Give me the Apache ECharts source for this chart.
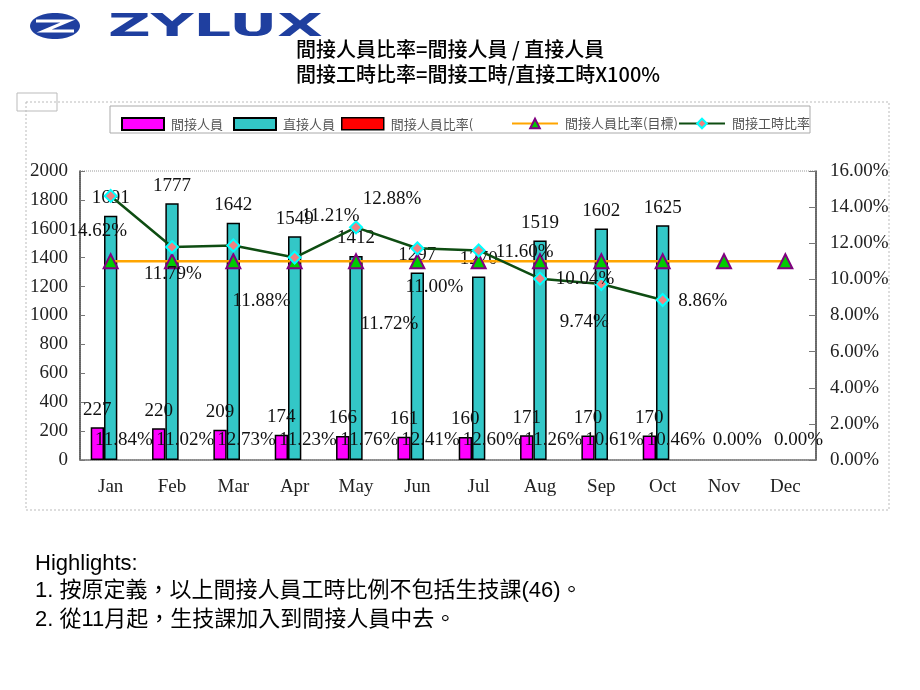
<!DOCTYPE html>
<html>
<head>
<meta charset="utf-8">
<script src="https://cdn.jsdelivr.net/npm/echarts@6/dist/echarts.min.js"></script>
<style>
html,body{margin:0;padding:0;background:#fff;}
#chart{width:920px;height:690px;}
</style>
</head>
<body>
<div id="chart"></div>
<script>
// ---- data ----
const months = ['Jan','Feb','Mar','Apr','May','Jun','Jul','Aug','Sep','Oct','Nov','Dec'];
const indirectStaff = [227,220,209,174,166,161,160,171,170,170,null,null];
const directStaff = [1691,1777,1642,1549,1412,1297,1270,1519,1602,1625,null,null];
const indirectRatio = [11.84,11.02,12.73,11.23,11.76,12.41,12.60,11.26,10.61,10.46,0.00,0.00];
const targetRatio = [11,11,11,11,11,11,11,11,11,11,11,11];
const hoursRatio = [14.62,11.79,11.88,11.21,12.88,11.72,11.60,10.04,9.74,8.86,null,null];
const leftAxisTicks = [0,200,400,600,800,1000,1200,1400,1600,1800,2000];
const rightAxisTicks = [0,2,4,6,8,10,12,14,16];
const titleLines = ['間接人員比率=間接人員 / 直接人員','間接工時比率=間接工時/直接工時X100%'];
const highlights = ['Highlights:','1. 按原定義，以上間接人員工時比例不包括生技課(46)。','2. 從11月起，生技課加入到間接人員中去。'];
const seriesNames = ['間接人員','直接人員','間接人員比率(','間接人員比率(目標)','間接工時比率'];

// ---- styles / label placement ----
const SERIF = '"Liberation Serif","Times New Roman",serif';
const CJK = '"Noto Sans CJK TC","Noto Sans CJK SC",sans-serif';
const hoursLabelOffsets = [[-13,35],[1,27],[28,56],[36,-42],[36,-28],[-28,76],[46,2],[45,0],[-17,38],[40,1]];
const labelFont = {fontFamily: SERIF, fontSize: 19, color: '#111'};

const chart = echarts.init(document.getElementById('chart'), null, {renderer: 'canvas'});

const hoursData = hoursRatio.map((v, i) => {
  if (v == null) return null;
  const off = hoursLabelOffsets[i] || [0, 0];
  return {value: v, label: {show: true, position: 'inside', offset: off, formatter: v.toFixed(2) + '%'}};
});
const targetData = targetRatio.map((v, i) => {
  if (i === 5) return {value: v, label: {show: true, position: 'inside', offset: [17, 26], formatter: v.toFixed(2) + '%'}};
  return v;
});

function legendAt(left, name, w) {
  return {
    left: left, top: 112, itemWidth: w, itemHeight: 12, itemGap: 0,
    data: [name], selectedMode: false,
    textStyle: {fontFamily: CJK, fontSize: 13, color: '#555', padding: [0, 0, 0, 2]}
  };
}
const legends = [
  Object.assign(legendAt(116, seriesNames[0], 42), {icon: 'rect'}),
  Object.assign(legendAt(228, seriesNames[1], 42), {icon: 'rect'}),
  Object.assign(legendAt(336, {name: seriesNames[2], itemStyle: {borderColor: '#000', borderWidth: 1.5}}, 42), {icon: 'rect'}),
  legendAt(506, seriesNames[3], 46),
  legendAt(673, seriesNames[4], 46)
];

const option = {
  backgroundColor: '#fff',
  animation: false,
  legend: legends,
  grid: {left: 80, right: 104, top: 171, bottom: 230, show: true, borderColor: '#999', borderWidth: 1, borderType: 'dotted'},
  xAxis: {
    type: 'category', data: months,
    axisLine: {lineStyle: {color: '#777', width: 1.5}},
    axisTick: {inside: true, length: 5, lineStyle: {color: '#777'}},
    axisLabel: {fontFamily: SERIF, fontSize: 19, color: '#222', margin: 18}
  },
  yAxis: [{
    type: 'value', min: leftAxisTicks[0], max: leftAxisTicks[leftAxisTicks.length - 1], interval: leftAxisTicks[1] - leftAxisTicks[0],
    axisLine: {show: true, lineStyle: {color: '#444', width: 1.5}},
    axisTick: {show: true, inside: true, length: 5, lineStyle: {color: '#777'}},
    splitLine: {show: false},
    axisLabel: {fontFamily: SERIF, fontSize: 19, color: '#222', margin: 12, formatter: v => String(v)}
  }, {
    type: 'value', min: rightAxisTicks[0], max: rightAxisTicks[rightAxisTicks.length - 1], interval: rightAxisTicks[1] - rightAxisTicks[0],
    axisLine: {show: true, lineStyle: {color: '#444', width: 1.5}},
    axisTick: {show: true, inside: true, length: 7, lineStyle: {color: '#777'}},
    splitLine: {show: false},
    axisLabel: {fontFamily: SERIF, fontSize: 19, color: '#222', margin: 14, formatter: v => v.toFixed(2) + '%'}
  }],
  series: [{
    name: seriesNames[0], type: 'bar', data: indirectStaff, barWidth: 13.3, barGap: '0%',
    itemStyle: {color: '#FF00FF', borderColor: '#000', borderWidth: 1.5},
    label: Object.assign({show: true, position: 'top', distance: 8}, labelFont), z: 2
  }, {
    name: seriesNames[1], type: 'bar', data: directStaff, barWidth: 13.3, barGap: '0%',
    itemStyle: {color: '#33C7C7', borderColor: '#000', borderWidth: 1.5},
    label: Object.assign({show: true, position: 'top', distance: 8}, labelFont), z: 2
  }, {
    name: seriesNames[2], type: 'bar', data: indirectRatio.map(v => v / 100), barWidth: 13.3, barGap: '0%',
    itemStyle: {color: '#FF0000', borderWidth: 0},
    label: Object.assign({show: true, position: 'top', distance: 10, formatter: p => (p.value * 100).toFixed(2) + '%'}, labelFont), z: 2
  }, {
    name: seriesNames[3], type: 'line', yAxisIndex: 1, data: targetData,
    lineStyle: {color: '#FFA500', width: 2.5},
    symbol: 'triangle', symbolSize: 14,
    itemStyle: {color: '#00CC00', borderColor: '#800080', borderWidth: 2},
    label: Object.assign({show: false}, labelFont), z: 5
  }, {
    name: seriesNames[4], type: 'line', yAxisIndex: 1, data: hoursData,
    lineStyle: {color: '#0E4D12', width: 2.5},
    symbol: 'diamond', symbolSize: 12,
    itemStyle: {color: '#F08080', borderColor: '#00FFFF', borderWidth: 2},
    label: Object.assign({show: false}, labelFont), z: 6
  }],
  graphic: [
    // outer chart frame
    {type: 'rect', shape: {x: 26, y: 102, width: 863, height: 408}, style: {fill: 'none', stroke: '#bbb', lineWidth: 1, lineDash: [2, 2]}, silent: true},
    {type: 'rect', shape: {x: 17, y: 93, width: 40, height: 18}, style: {fill: 'none', stroke: '#bbb', lineWidth: 1}, silent: true},
    // legend box
    {type: 'rect', shape: {x: 110, y: 106, width: 700, height: 27}, style: {fill: 'none', stroke: '#aaa', lineWidth: 1}, silent: true},
    // logo
    {type: 'ellipse', shape: {cx: 55, cy: 26, rx: 25, ry: 13}, style: {fill: '#1f3f9f'}, silent: true},
    {type: 'polyline', shape: {points: [[36, 21], [68, 21], [44, 31], [74, 31]]}, style: {stroke: '#fff', lineWidth: 3, fill: 'none'}, silent: true},
    {type: 'text', x: 108, y: 12, scaleX: 2.11, scaleY: 1.12, style: {text: 'ZYLUX', font: 'bold 28px "DejaVu Sans"', fill: '#1f3f9f'}, silent: true},
    // title
    {type: 'text', x: 296, y: 39, style: {text: titleLines[0], font: '500 20px ' + CJK, fill: '#000'}, silent: true},
    {type: 'text', x: 296, y: 64, style: {text: titleLines[1], font: '500 20px ' + CJK, fill: '#000'}, silent: true},
    // highlights
    {type: 'text', x: 35, y: 553, style: {text: highlights[0], font: '22px "Liberation Sans",Arial,' + CJK, fill: '#000'}, silent: true},
    {type: 'text', x: 35, y: 580, style: {text: highlights[1], font: '22px "Liberation Sans",Arial,' + CJK, fill: '#000'}, silent: true},
    {type: 'text', x: 35, y: 609, style: {text: highlights[2], font: '22px "Liberation Sans",Arial,' + CJK, fill: '#000'}, silent: true}
  ]
};
chart.setOption(option);
</script>
</body>
</html>
